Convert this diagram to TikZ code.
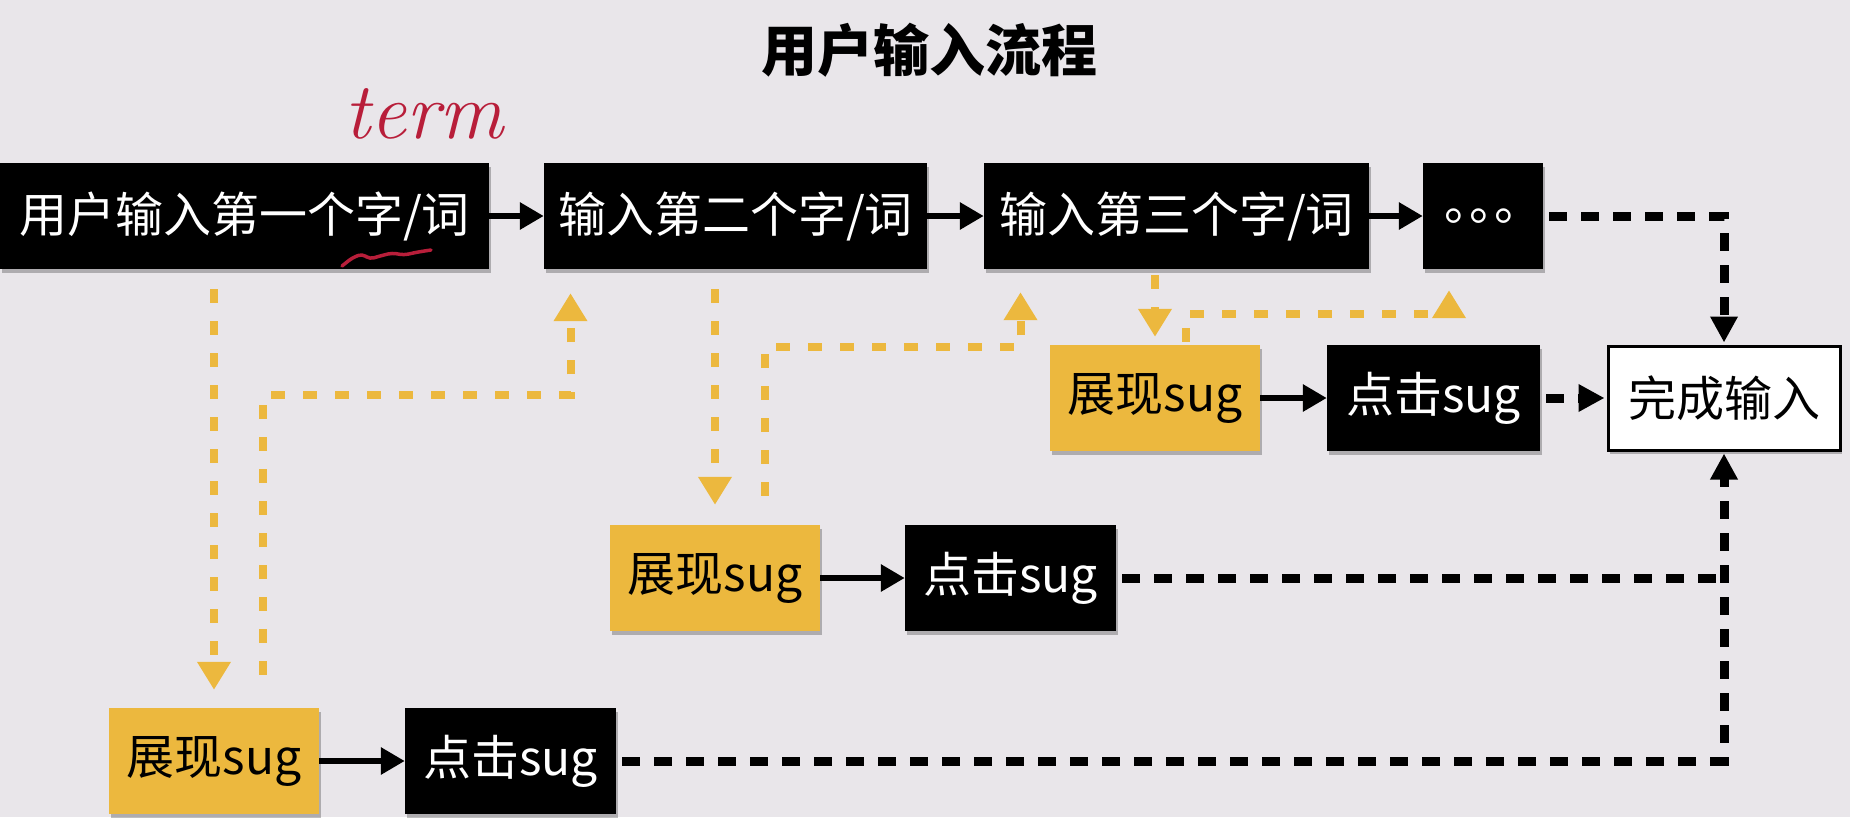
\documentclass[tikz,border=0pt]{standalone}
\usepackage{fontspec}
\setmainfont{Noto Sans CJK SC}
\newfontfamily\cjk{Noto Sans CJK SC}
\newfontfamily\hand{Latin Modern Roman}
\usetikzlibrary{arrows.meta,shadows}
\definecolor{bg}{HTML}{E9E6EA}
\definecolor{ylw}{HTML}{ECB83E}
\definecolor{pen}{HTML}{B81E3A}
\tikzset{
  box/.style={inner sep=0pt, minimum height=106pt, font=\cjk\fontsize{48}{56}\selectfont,
    drop shadow={shadow xshift=2pt, shadow yshift=-4pt, opacity=0.25, fill=black}},
  blk/.style={box, fill=black, text=white},
  ylwbox/.style={box, fill=ylw, text=black},
  donebox/.style={box, fill=white, draw=black, line width=3pt, text=black},
  solidarr/.style={line width=6pt, -{Triangle[length=24pt,width=26pt]}},
  blkdash/.style={line width=9pt, dash pattern=on 18pt off 14pt},
  blkdasharr/.style={blkdash, -{Triangle[length=26pt,width=26pt]}},
  ydash/.style={draw=ylw, line width=8pt, dash pattern=on 14pt off 18pt},
  ydasharr/.style={ydash, -{Triangle[length=28pt,width=32pt]}, ylw},
}
\begin{document}
\begin{tikzpicture}[x=1pt,y=-1pt]
\useasboundingbox (0,0) rectangle (1850,817);
\fill[bg] (0,0) rectangle (1850,817);

\node[font=\cjk\bfseries\fontsize{56}{64}\selectfont] (title) at (929,50) {用户输入流程};

% top row
\node[blk, minimum width=489pt] (b1) at (244.5,216) {用户输入第一个字/词};
\node[blk, minimum width=383pt] (b2) at (735.5,216) {输入第二个字/词};
\node[blk, minimum width=385pt] (b3) at (1176.5,216) {输入第三个字/词};
\node[blk, minimum width=120pt] (b4) at (1483,216) {。\kern-23pt。\kern-23pt。\kern-20pt};

% handwritten annotation
\node[text=pen, font=\hand\itshape\fontsize{80}{84}\selectfont] (term) at (424,114) {term};
\draw[pen, line width=3.5pt, line cap=round, rounded corners=4pt]
  (342,266) -- (352,258) -- (362,254) -- (370,259) -- (380,256) -- (392,253) -- (404,255) -- (418,252) -- (431,250);

% row 2
\node[ylwbox, minimum width=210pt] (s2) at (1155,398) {展现sug};
\node[blk, minimum width=213pt] (c2) at (1433.5,398) {点击sug};
\node[donebox, minimum width=232pt, minimum height=104pt] (done) at (1724,398) {完成输入};

% row 3
\node[ylwbox, minimum width=210pt] (s1) at (715,578) {展现sug};
\node[blk, minimum width=211pt] (c1) at (1010.5,578) {点击sug};

% row 4
\node[ylwbox, minimum width=210pt] (s0) at (214,761) {展现sug};
\node[blk, minimum width=211pt] (c0) at (510.5,761) {点击sug};

% solid arrows
\draw[solidarr] (b1.east) -- (b2.west);
\draw[solidarr] (b2.east) -- (b3.west);
\draw[solidarr] (b3.east) -- (b4.west);
\draw[solidarr] (s2.east) -- (c2.west);
\draw[solidarr] (s1.east) -- (c1.west);
\draw[solidarr] (s0.east) -- (c0.west);

% black dashed
\draw[blkdasharr] ([xshift=6pt]b4.east) -| ([yshift=2pt]done.north);
\draw[blkdasharr] ([xshift=6pt]c2.east) -- ([xshift=-2pt]done.west);
\draw[blkdash] ([xshift=6pt]c1.east) -- (c1.east -| done.south);
\draw[blkdasharr] ([xshift=6pt]c0.east) -| ([yshift=-2pt]done.south);

% yellow dashed
\coordinate (k0) at (263,395);
\coordinate (k1) at (765,347);
\coordinate (k2) at (1186,314);
\draw[ydasharr, shorten <=20pt, shorten >=18pt] (b1.south -| s0.north) -- (s0.north);
\draw[ydasharr] ([xshift=49pt,yshift=33pt]s0.north) -- (k0) -| ([xshift=-165pt,yshift=-24pt]b2.south);
\draw[ydasharr, shorten <=20pt, shorten >=20pt] (b2.south -| s1.north) -- (s1.north);
\draw[ydasharr] ([xshift=50pt,yshift=29pt]s1.north) -- (k1) -| ([xshift=-156pt,yshift=-23pt]b3.south);
\draw[ydasharr, shorten <=6pt, shorten >=8pt] (b3.south -| s2.north) -- (s2.north);
\draw[ydasharr] ([xshift=31pt,yshift=3pt]s2.north) -- (k2) -| ([xshift=-34pt,yshift=-21pt]b4.south);
\end{tikzpicture}
\end{document}
